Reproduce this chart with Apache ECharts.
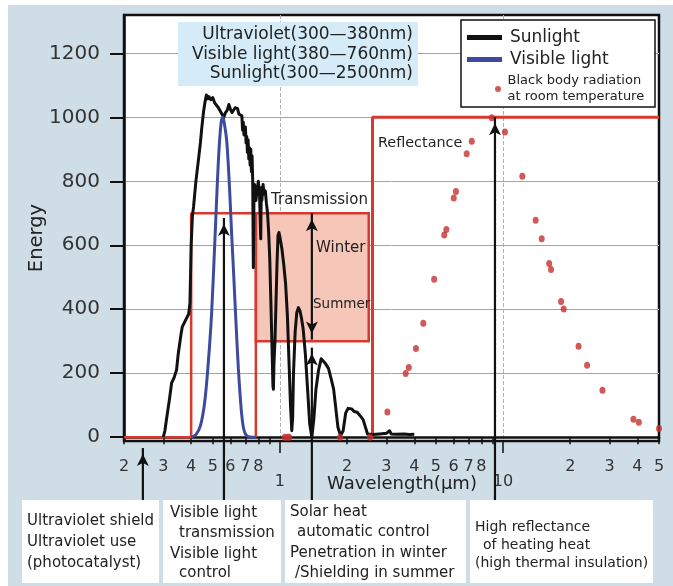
<!DOCTYPE html>
<html>
<head>
<meta charset="utf-8">
<script src="https://cdn.jsdelivr.net/npm/echarts@6/dist/echarts.min.js"></script>
<style>
  html, body { margin: 0; padding: 0; background: #ffffff; }
  #chart { width: 673px; height: 586px; }
</style>
</head>
<body>
<div id="chart"></div>
<script>
// Solar spectrum at ground level: [wavelength µm, energy]
const sunlight = [
  [0.300, 0], [0.305, 20], [0.310, 55], [0.320, 120], [0.327, 170], [0.335, 185],
  [0.344, 210], [0.350, 260], [0.360, 320], [0.365, 345], [0.372, 350], [0.380, 370],
  [0.390, 385], [0.395, 420], [0.400, 600], [0.405, 690], [0.410, 720], [0.420, 800],
  [0.430, 860], [0.440, 920], [0.446, 965], [0.455, 1020], [0.462, 1050], [0.468, 1070],
  [0.475, 1058], [0.480, 1065], [0.490, 1055], [0.500, 1062], [0.510, 1045], [0.520, 1050],
  [0.530, 1030], [0.540, 1035], [0.550, 1010], [0.560, 1000], [0.570, 1015], [0.580, 1022],
  [0.590, 1040], [0.600, 1025], [0.610, 1015], [0.620, 1020], [0.630, 1030], [0.645, 1028],
  [0.655, 1010], [0.665, 1015], [0.675, 1005], [0.680, 960], [0.685, 985], [0.690, 945],
  [0.700, 970], [0.705, 920], [0.710, 940], [0.715, 890], [0.720, 930], [0.725, 870],
  [0.730, 905], [0.735, 850], [0.740, 900], [0.745, 830], [0.750, 880], [0.755, 800],
  [0.760, 530], [0.765, 760], [0.770, 790], [0.780, 740], [0.790, 770], [0.800, 800],
  [0.810, 760], [0.820, 620], [0.825, 780], [0.830, 740], [0.840, 790], [0.850, 760],
  [0.860, 770], [0.870, 730], [0.880, 700], [0.890, 640], [0.900, 560], [0.910, 430],
  [0.920, 300], [0.930, 160], [0.935, 150], [0.940, 230], [0.950, 300], [0.960, 420],
  [0.970, 540], [0.980, 630], [0.990, 640], [1.000, 625], [1.020, 590], [1.040, 540],
  [1.060, 480], [1.080, 380], [1.100, 220], [1.115, 100], [1.130, 20], [1.140, 60],
  [1.150, 200], [1.170, 330], [1.190, 390], [1.210, 405], [1.230, 395], [1.250, 370],
  [1.270, 340], [1.300, 260], [1.330, 150], [1.360, 40], [1.390, 0], [1.420, 60],
  [1.450, 150], [1.490, 210], [1.530, 245], [1.560, 240], [1.600, 230], [1.650, 215],
  [1.700, 180], [1.740, 150], [1.780, 90], [1.820, 30], [1.870, 5], [1.920, 20],
  [1.970, 75], [2.020, 90], [2.060, 85], [2.100, 88], [2.150, 80], [2.220, 78],
  [2.300, 65], [2.360, 55], [2.420, 30], [2.470, 10], [2.520, 5], [2.600, 8],
  [2.800, 10], [3.000, 12], [3.100, 20], [3.150, 10], [3.300, 9], [3.600, 10],
  [3.800, 8], [4.000, 9]
];

// Visible light (luminosity curve scaled to 1000)
const visibleLight = [
  [0.400, 0], [0.420, 8], [0.440, 35], [0.460, 110], [0.477, 230], [0.494, 387],
  [0.511, 616], [0.520, 740], [0.529, 855], [0.538, 940], [0.547, 991], [0.555, 1000],
  [0.565, 975], [0.577, 928], [0.587, 850], [0.597, 751], [0.607, 640], [0.618, 532],
  [0.629, 420], [0.640, 313], [0.651, 215], [0.662, 137], [0.673, 75], [0.685, 32],
  [0.700, 10], [0.720, 2], [0.750, 0], [0.780, 0]
];

// Black body radiation at room temperature
const blackBody = [
  [1.05, 0], [1.08, 0], [1.10, 0], [1.86, 0], [2.53, 0],
  [3.03, 79], [3.66, 199], [3.78, 218], [4.07, 277], [4.39, 356], [4.91, 494],
  [5.45, 632], [5.57, 649], [6.01, 748], [6.15, 768], [6.87, 886], [7.24, 925],
  [8.9, 999], [10.2, 954], [12.2, 816], [14.0, 678], [14.9, 620], [16.1, 543],
  [16.4, 524], [18.2, 424], [18.7, 401], [21.8, 284], [23.8, 225], [27.9, 147],
  [38.4, 56], [40.6, 47], [50, 27]
];

// Band outlines
const uvVisibleBand = [[0.2, 0], [0.4, 0], [0.4, 700], [0.78, 700], [0.78, 0]];
const transmissionBand = [[0.78, 700], [2.5, 300]];
const reflectanceBand = [[2.6, 0], [2.6, 1000], [50, 1000]];

// Pointer lines from the application boxes
const arrowUV = [[0.243, -197], [0.243, -34]];
const arrowVisible = [[0.561, -197], [0.561, 685]];
const arrowSolarBelow = [[1.39, -197], [1.39, 280]];
const arrowSolarRange = [[1.39, 305], [1.39, 700]];
const arrowHeat = [[9.2, -197], [9.2, 1000]];

// Axis ticks
const minorTicks = [0.2, 0.3, 0.4, 0.5, 0.6, 0.7, 0.8, 0.9, 2, 3, 4, 5, 6, 7, 8, 9, 20, 30, 40, 50];
const minorLabels = [0.2, 0.3, 0.4, 0.5, 0.6, 0.7, 0.8, 2, 3, 4, 5, 6, 7, 8, 20, 30, 40, 50];
const decadeTicks = [1, 10];
const energyTicks = [0, 200, 400, 600, 800, 1000, 1200];

const FONT = '"DejaVu Sans", sans-serif';
const RED = '#d8392e';
const INK = '#222222';

function leadingDigit(v) {
  const p = Math.pow(10, Math.floor(Math.log10(v) + 1e-9));
  return String(Math.round(v / p));
}

function arrowLine(points, headEnd, headStart) {
  return points.map(function (p, i) {
    const item = { value: p, symbol: 'none' };
    if (i === points.length - 1 && headEnd) {
      item.symbol = 'arrow';
      item.symbolSize = [9, 12];
      item.symbolOffset = [0, '50%'];
    }
    if (i === 0 && headStart) {
      item.symbol = 'arrow';
      item.symbolSize = [9, 12];
      item.symbolRotate = 180;
      item.symbolOffset = [0, '-50%'];
    }
    return item;
  });
}

function arrowSeries(points, headEnd, headStart) {
  return {
    type: 'line',
    data: arrowLine(points, headEnd, headStart),
    showSymbol: true,
    clip: false,
    silent: true,
    z: 8,
    lineStyle: { color: '#111', width: 2.2 },
    itemStyle: { color: '#111' }
  };
}

function txt(x, y, text, size, align) {
  return {
    type: 'text',
    z: 10,
    style: {
      x: x, y: y, text: text,
      font: size + 'px ' + FONT,
      fill: INK,
      align: align || 'left',
      verticalAlign: 'middle'
    }
  };
}

function box(x, y, w, h, fill, z, stroke, lw) {
  return {
    type: 'rect', z: z,
    shape: { x: x, y: y, width: w, height: h },
    style: { fill: fill, stroke: stroke || null, lineWidth: lw || 0 }
  };
}

const chart = echarts.init(document.getElementById('chart'), null, { renderer: 'canvas' });

const bbName = 'Black body radiation\nat room temperature';

chart.setOption({
  animation: false,
  backgroundColor: '#ffffff',
  textStyle: { fontFamily: FONT },
  grid: {
    left: 124, right: 14, top: 15, bottom: 145,
    show: true, backgroundColor: '#ffffff',
    borderColor: '#111', borderWidth: 2.5
  },
  legend: [
    {
      data: [
        { name: 'Sunlight', icon: 'rect' },
        { name: 'Visible light', icon: 'rect' }
      ],
      orient: 'vertical', left: 467, top: 29, padding: 0,
      itemWidth: 35, itemHeight: 5, itemGap: 5,
      selectedMode: false, z: 12,
      textStyle: { fontFamily: FONT, fontSize: 17, color: INK, padding: [0, 0, 0, 3] }
    },
    {
      data: [{ name: bbName, icon: 'circle' }],
      orient: 'vertical', left: 495, top: 73, padding: 0,
      itemWidth: 9, itemHeight: 6,
      selectedMode: false, z: 12,
      textStyle: { fontFamily: FONT, fontSize: 13, lineHeight: 16, color: INK }
    }
  ],
  xAxis: [
    {
      type: 'log', min: 0.2, max: 50, position: 'bottom',
      axisLine: { show: true, lineStyle: { color: '#111', width: 2.5 } },
      axisTick: { show: true, customValues: minorTicks, length: 7, lineStyle: { color: '#111', width: 1.5 } },
      axisLabel: {
        customValues: minorLabels, formatter: leadingDigit, margin: 18,
        fontFamily: FONT, fontSize: 16, color: '#333'
      },
      splitLine: { show: false }
    },
    {
      type: 'log', min: 0.2, max: 50, position: 'bottom',
      axisLine: { show: false },
      axisTick: { show: true, customValues: decadeTicks, length: 12, lineStyle: { color: '#111', width: 1.5 } },
      axisLabel: {
        customValues: decadeTicks, margin: 33,
        fontFamily: FONT, fontSize: 16, color: '#333'
      },
      splitLine: { show: true, lineStyle: { color: '#b0b0b0', type: 'dashed', width: 1 } }
    }
  ],
  yAxis: {
    type: 'value', min: -12, max: 1320, splitNumber: 7,
    axisLine: { show: true, lineStyle: { color: '#111', width: 2.5 } },
    axisTick: { show: true, customValues: energyTicks, length: 14, lineStyle: { color: '#111', width: 2 } },
    axisLabel: {
      customValues: energyTicks, margin: 24, formatter: function (v) { return String(v); },
      fontFamily: FONT, fontSize: 20, color: '#333'
    },
    splitLine: { show: true, lineStyle: { color: '#a3a3a3', width: 1 } }
  },
  series: [
    {
      name: 'UV / visible band',
      type: 'line', data: uvVisibleBand, showSymbol: false, symbol: 'none', silent: true, z: 2,
      lineStyle: { color: RED, width: 2.5 },
      markArea: {
        silent: true,
        itemStyle: { color: '#f6c6b8', borderColor: RED, borderWidth: 2.5 },
        data: [[{ coord: transmissionBand[0] }, { coord: transmissionBand[1] }]]
      }
    },
    {
      name: 'Reflectance band',
      type: 'line', data: reflectanceBand, showSymbol: false, symbol: 'none', silent: true, z: 2,
      lineStyle: { color: RED, width: 3 }
    },
    {
      name: 'Sunlight',
      type: 'line', data: sunlight, showSymbol: false, symbol: 'none', z: 4,
      lineStyle: { color: '#111', width: 3, join: 'round' },
      itemStyle: { color: '#111' }
    },
    {
      name: 'Visible light',
      type: 'line', data: visibleLight, showSymbol: false, symbol: 'none', smooth: 0.3, z: 5,
      lineStyle: { color: '#3d4b9e', width: 3 },
      itemStyle: { color: '#3d4b9e' }
    },
    {
      name: bbName,
      type: 'scatter', data: blackBody, symbol: 'circle', symbolSize: [6, 7], z: 6,
      itemStyle: { color: '#c4302f' }
    },
    arrowSeries(arrowUV, true, false),
    arrowSeries(arrowVisible, true, false),
    arrowSeries(arrowSolarBelow, true, false),
    arrowSeries(arrowSolarRange, true, true),
    arrowSeries(arrowHeat, true, false)
  ],
  graphic: [
    // panel
    box(8, 5, 665, 581, '#cfdee6', -100),
    // spectral range box
    box(178, 22, 240, 64, '#d5ecf8', 9),
    txt(413, 35, 'Ultraviolet(300—380nm)', 17, 'right'),
    txt(413, 55, 'Visible light(380—760nm)', 17, 'right'),
    txt(413, 74, 'Sunlight(300—2500nm)', 17, 'right'),
    // legend frame
    box(461, 20, 194, 87, '#ffffff', 9, '#111', 1.5),
    // plot annotations
    txt(271, 200, 'Transmission', 15),
    txt(316, 248, 'Winter', 15),
    txt(313, 304, 'Summer', 13.5),
    txt(378, 143, 'Reflectance', 14.4),
    // axis names
    txt(402, 484, 'Wavelength(μm)', 18, 'center'),
    {
      type: 'text', z: 10, x: 37, y: 238, rotation: Math.PI / 2,
      style: { x: 0, y: 0, text: 'Energy', font: '19.5px ' + FONT, fill: INK, align: 'center', verticalAlign: 'middle' }
    },
    // application boxes
    box(22, 500, 137, 83, '#ffffff', 9),
    box(163, 500, 118, 83, '#ffffff', 9),
    box(285, 500, 181, 83, '#ffffff', 9),
    box(470, 500, 183, 83, '#ffffff', 9),
    txt(27, 521, 'Ultraviolet shield', 15),
    txt(27, 542, 'Ultraviolet use', 15),
    txt(27, 563, '(photocatalyst)', 15),
    txt(170, 513, 'Visible light', 15),
    txt(179, 533, 'transmission', 15),
    txt(170, 554, 'Visible light', 15),
    txt(179, 573, 'control', 15),
    txt(290, 512, 'Solar heat', 15),
    txt(297, 532, 'automatic control', 15),
    txt(290, 553, 'Penetration in winter', 15),
    txt(295, 573, '/Shielding in summer', 15),
    txt(475, 527, 'High reflectance', 14),
    txt(483, 545, 'of heating heat', 14),
    txt(475, 563, '(high thermal insulation)', 14)
  ]
});
</script>
</body>
</html>
